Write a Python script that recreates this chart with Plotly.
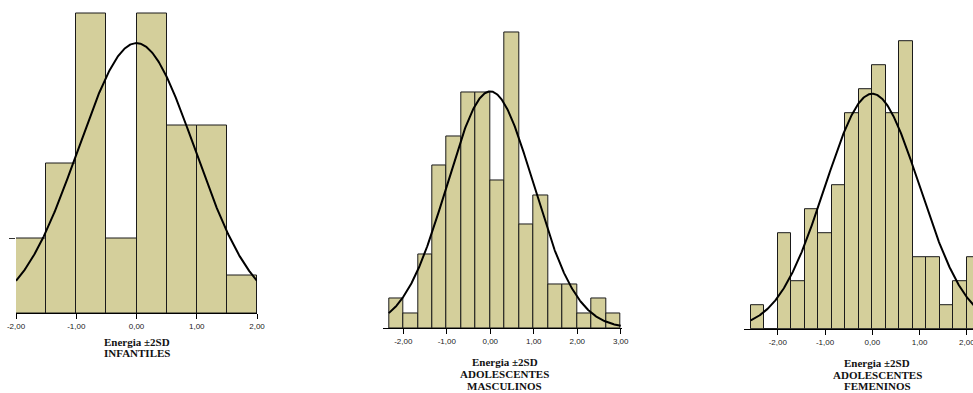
import numpy as np
import plotly.graph_objects as go

W, H = 973, 393

# ---------------- data ----------------
# Panel 1: INFANTILES (bin width 0.5, from -2 to 2)
inf_start = -2.0
inf_width = 0.5
inf_counts = [2, 4, 8, 2, 8, 5, 5, 1]
inf_mean, inf_sd = 0.0, 0.97

# Panel 2: ADOLESCENTES MASCULINOS (bin width 1/3, from -2.333 to 3)
mas_start = -7 / 3
mas_width = 1 / 3
mas_counts = [2, 1, 5, 11, 13, 16, 16, 10, 20, 7, 9, 3, 3, 1, 2, 1]
mas_mean, mas_sd = 0.0, 0.995

# Panel 3: ADOLESCENTES FEMENINOS (bin width 2/7, from -2.571)
fem_start = -18 / 7
fem_width = 2 / 7
fem_counts = [1, 0, 4, 2, 5, 4, 6, 9, 10, 11, 9, 12, 3, 3, 1, 2, 3, 1]
fem_mean, fem_sd = 0.0, 1.0

tick_vals_1 = [-2, -1, 0, 1, 2]
tick_text_1 = ["-2,00", "-1,00", "0,00", "1,00", "2,00"]
tick_vals_2 = [-2, -1, 0, 1, 2, 3]
tick_text_2 = ["-2,00", "-1,00", "0,00", "1,00", "2,00", "3,00"]
tick_vals_3 = [-2, -1, 0, 1, 2]
tick_text_3 = ["-2,00", "-1,00", "0,00", "1,00", "2,00"]

titles = [
    ["Energia ±2SD", "INFANTILES"],
    ["Energia ±2SD", "ADOLESCENTES", "MASCULINOS"],
    ["Energia ±2SD", "ADOLESCENTES", "FEMENINOS"],
]

BAR_FILL = "#D4CF9B"
EDGE = "#1a1a1a"

# ---------------- layout geometry (pixels) ----------------
panels = [
    dict(xl=16, xr=257, xrange=[-2.0, 2.0], base=313.0, ppc=37.5, ymax=8.12,
         start=inf_start, width=inf_width, counts=inf_counts, mean=inf_mean, sd=inf_sd,
         tv=tick_vals_1, tt=tick_text_1),
    dict(xl=383.3, xr=621.6, xrange=[-2.46, 3.02], base=328.3, ppc=14.77, ymax=20.3,
         start=mas_start, width=mas_width, counts=mas_counts, mean=mas_mean, sd=mas_sd,
         tv=tick_vals_2, tt=tick_text_2),
    dict(xl=744.0, xr=973.0, xrange=[-2.715, 2.131], base=329.0, ppc=24.0, ymax=12.2,
         start=fem_start, width=fem_width, counts=fem_counts, mean=fem_mean, sd=fem_sd,
         tv=tick_vals_3, tt=tick_text_3),
]

fig = go.Figure()
layout = dict(
    width=W, height=H, margin=dict(l=0, r=0, t=0, b=0, autoexpand=False),
    paper_bgcolor="white", plot_bgcolor="white", showlegend=False,
)

for i, p in enumerate(panels, start=1):
    xa = "x" if i == 1 else f"x{i}"
    ya = "y" if i == 1 else f"y{i}"
    n = len(p["counts"])
    centers = [p["start"] + (k + 0.5) * p["width"] for k in range(n)]
    fig.add_trace(go.Bar(
        x=centers, y=p["counts"], width=[p["width"]] * n,
        marker=dict(color=BAR_FILL, line=dict(color=EDGE, width=1)),
        xaxis=xa, yaxis=ya, hoverinfo="skip",
    ))
    N = sum(p["counts"])
    xs = np.linspace(p["start"], p["start"] + n * p["width"], 400)
    ys = N * p["width"] / (p["sd"] * np.sqrt(2 * np.pi)) * np.exp(-0.5 * ((xs - p["mean"]) / p["sd"]) ** 2)
    fig.add_trace(go.Scatter(
        x=xs, y=ys, mode="lines", line=dict(color="black", width=2),
        xaxis=xa, yaxis=ya, hoverinfo="skip",
    ))
    top_px = p["base"] - p["ymax"] * p["ppc"]
    xkey = "xaxis" if i == 1 else f"xaxis{i}"
    ykey = "yaxis" if i == 1 else f"yaxis{i}"
    layout[xkey] = dict(
        domain=[p["xl"] / W, min(p["xr"] / W, 1.0)], range=p["xrange"],
        anchor=ya, showgrid=False, zeroline=False, showline=True,
        linecolor="black", linewidth=1, ticks="outside", ticklen=5,
        tickcolor="black", tickwidth=1, tickvals=p["tv"], ticktext=p["tt"],
        tickfont=dict(family="Liberation Sans, Arial", size=8, color="#222"),
        ticklabeloverflow="allow",
        fixedrange=True, automargin=False,
    )
    ydict = dict(
        domain=[1 - p["base"] / H, 1 - top_px / H], range=[0, p["ymax"]],
        anchor=xa, showgrid=False, zeroline=False, showline=False,
        showticklabels=False, fixedrange=True, automargin=False,
    )
    if i == 1:
        ydict.update(ticks="outside", ticklen=6, tickvals=[2], tickcolor="#333", tickwidth=1)
    else:
        ydict.update(ticks="")
    layout[ykey] = ydict

# title line centres (pixels): x centre, first line y centre, line step
title_pos = [(137, 342, 11), (505, 362.3, 11.7), (877, 362.8, 11.7)]
annotations = []
for lines, (cx, y0, step) in zip(titles, title_pos):
    for j, line in enumerate(lines):
        annotations.append(dict(
            text=f"<b>{line}</b>", x=cx / W, y=1 - (y0 + j * step) / H,
            xref="paper", yref="paper", xanchor="center", yanchor="middle",
            showarrow=False, align="center",
            font=dict(family="Liberation Serif, Times New Roman", size=11, color="#111"),
        ))
layout["annotations"] = annotations
layout["bargap"] = 0

fig.update_layout(**layout)
fig.write_html(
    "out.html",
    config={"responsive": False, "displayModeBar": False},
    post_script="document.body.style.margin='0';document.body.style.overflow='hidden';",
)
